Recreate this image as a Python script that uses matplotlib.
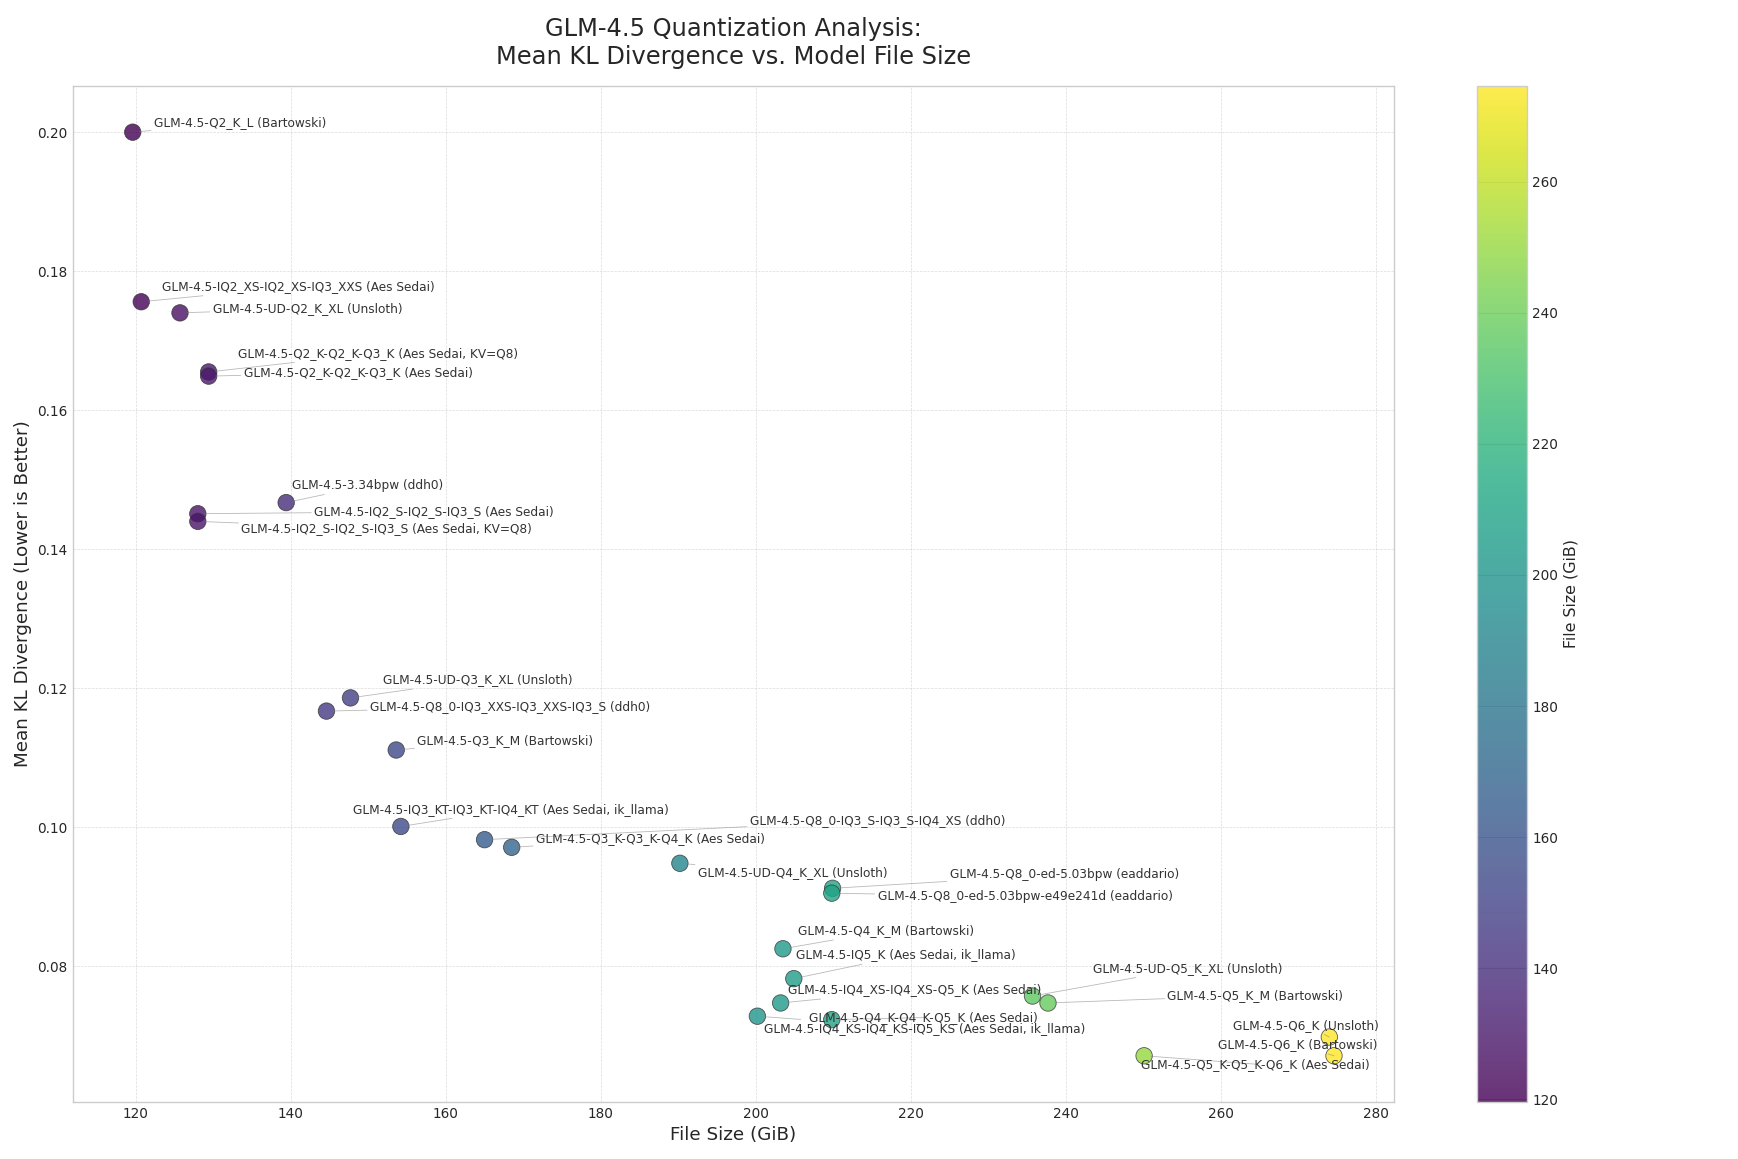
import matplotlib
matplotlib.use("Agg")
import matplotlib.pyplot as plt

# quant name, file size (GiB), mean KLD
names = [
    "GLM-4.5-Q2_K_L (Bartowski)",
    "GLM-4.5-IQ2_XS-IQ2_XS-IQ3_XXS (Aes Sedai)",
    "GLM-4.5-UD-Q2_K_XL (Unsloth)",
    "GLM-4.5-Q2_K-Q2_K-Q3_K (Aes Sedai, KV=Q8)",
    "GLM-4.5-Q2_K-Q2_K-Q3_K (Aes Sedai)",
    "GLM-4.5-3.34bpw (ddh0)",
    "GLM-4.5-IQ2_S-IQ2_S-IQ3_S (Aes Sedai)",
    "GLM-4.5-IQ2_S-IQ2_S-IQ3_S (Aes Sedai, KV=Q8)",
    "GLM-4.5-UD-Q3_K_XL (Unsloth)",
    "GLM-4.5-Q8_0-IQ3_XXS-IQ3_XXS-IQ3_S (ddh0)",
    "GLM-4.5-Q3_K_M (Bartowski)",
    "GLM-4.5-IQ3_KT-IQ3_KT-IQ4_KT (Aes Sedai, ik_llama)",
    "GLM-4.5-Q8_0-IQ3_S-IQ3_S-IQ4_XS (ddh0)",
    "GLM-4.5-Q3_K-Q3_K-Q4_K (Aes Sedai)",
    "GLM-4.5-UD-Q4_K_XL (Unsloth)",
    "GLM-4.5-Q8_0-ed-5.03bpw (eaddario)",
    "GLM-4.5-Q8_0-ed-5.03bpw-e49e241d (eaddario)",
    "GLM-4.5-Q4_K_M (Bartowski)",
    "GLM-4.5-IQ5_K (Aes Sedai, ik_llama)",
    "GLM-4.5-IQ4_XS-IQ4_XS-Q5_K (Aes Sedai)",
    "GLM-4.5-IQ4_KS-IQ4_KS-IQ5_KS (Aes Sedai, ik_llama)",
    "GLM-4.5-Q4_K-Q4_K-Q5_K (Aes Sedai)",
    "GLM-4.5-UD-Q5_K_XL (Unsloth)",
    "GLM-4.5-Q5_K_M (Bartowski)",
    "GLM-4.5-Q6_K (Unsloth)",
    "GLM-4.5-Q6_K (Bartowski)",
    "GLM-4.5-Q5_K-Q5_K-Q6_K (Aes Sedai)",
]
size_gib = [119.6, 120.7, 125.7, 129.4, 129.4, 139.4, 128.0, 128.0, 147.7, 144.6,
            153.6, 154.2, 165.0, 168.5, 190.2, 209.9, 209.8, 203.5, 204.9, 203.2,
            200.2, 209.8, 235.7, 237.7, 274.0, 274.6, 250.1]
mean_kld = [0.2000, 0.1756, 0.1740, 0.1655, 0.1649, 0.1467, 0.1451, 0.1440, 0.1186, 0.1167,
            0.1111, 0.1001, 0.0982, 0.0971, 0.0948, 0.0912, 0.0905, 0.0825, 0.0782, 0.0747,
            0.0728, 0.0723, 0.0757, 0.0747, 0.0698, 0.0671, 0.0671]

# where each label sits (left edge, vertical centre), data coords
label_xy = [
    (122.3, 0.2014), (123.4, 0.1778), (129.9, 0.1746), (133.2, 0.1682), (133.9, 0.1654),
    (140.2, 0.1492), (143.0, 0.1454), (133.6, 0.1429), (151.9, 0.1212), (150.2, 0.1173),
    (156.3, 0.1125), (148.0, 0.1026), (199.2, 0.1010), (171.6, 0.0983), (192.5, 0.0934),
    (225.0, 0.0932), (215.7, 0.0900), (205.5, 0.0851), (205.2, 0.0816), (204.2, 0.0766),
    (201.1, 0.0710), (206.9, 0.0726), (243.5, 0.0797), (253.1, 0.0758), (261.6, 0.0715),
    (259.6, 0.0687), (249.7, 0.0659),
]

plt.style.use("seaborn-v0_8-whitegrid")
plt.rcParams["font.family"] = ["DejaVu Sans"]
fig = plt.figure(figsize=(17.38, 11.59), dpi=100)
ax = fig.add_axes([0.0418, 0.0492, 0.7603, 0.8766])
cax = fig.add_axes([0.8497, 0.0492, 0.0291, 0.8766])

sc = ax.scatter(size_gib, mean_kld, c=size_gib, cmap="viridis", s=140, alpha=0.8,
                edgecolors="#333333", linewidths=0.6, zorder=3)

for name, x, y, (tx, ty) in zip(names, size_gib, mean_kld, label_xy):
    ax.annotate(name, xy=(x, y), xytext=(tx, ty), textcoords="data",
                ha="left", va="center", fontsize=8.7, color="#333333", zorder=4,
                arrowprops=dict(arrowstyle="-", color="gray", lw=0.6, alpha=0.55,
                                shrinkA=0, shrinkB=5))

ax.grid(True, linestyle="--", linewidth=0.5, alpha=0.7)
for sp in ax.spines.values():
    sp.set_visible(True)
    sp.set_color("#cccccc")
ax.tick_params(labelsize=9.8)
ax.set_xlabel("File Size (GiB)", fontsize=13.2)
ax.set_ylabel("Mean KL Divergence (Lower is Better)", fontsize=13.2)
ax.set_title("GLM-4.5 Quantization Analysis:\nMean KL Divergence vs. Model File Size",
             fontsize=17.4, pad=16)

cb = fig.colorbar(sc, cax=cax)
cb.set_label("File Size (GiB)", fontsize=11.4)
cb.ax.tick_params(labelsize=9.8)
cb.outline.set_edgecolor("#cccccc")

fig.savefig("out.png", dpi=100)
